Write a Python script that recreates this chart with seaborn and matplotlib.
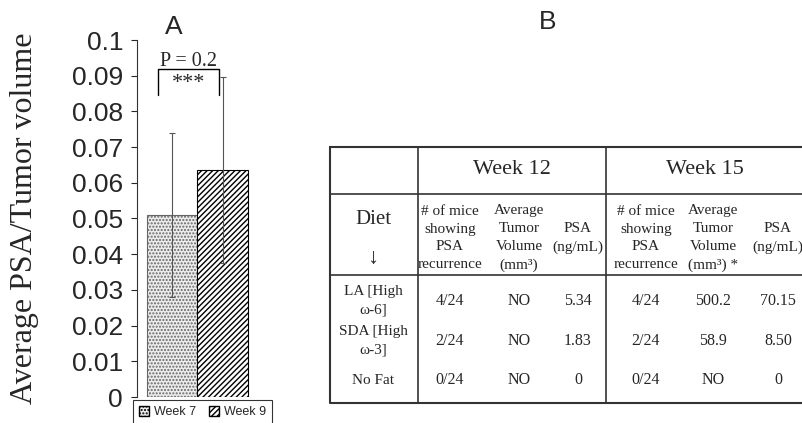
import matplotlib
matplotlib.use("Agg")
import matplotlib.pyplot as plt
import matplotlib.patches as mpatches
import pandas as pd
import seaborn as sns

# ---- panel A data ----
weeks = ["Week 7", "Week 9"]
psa_ratio = [0.051, 0.0635]
psa_err = [0.023, 0.026]
p_text = "P = 0.2"
sig_text = "***"

# ---- panel B table data ----
week_groups = ["Week 12", "Week 15"]
sub_headers = ["# of mice\nshowing\nPSA\nrecurrence",
               "Average\nTumor\nVolume\n(mm³)",
               "PSA\n(ng/mL)",
               "# of mice\nshowing\nPSA\nrecurrence",
               "Average\nTumor\nVolume\n(mm³) *",
               "PSA\n(ng/mL)"]
diets = ["LA [High\nω-6]", "SDA [High\nω-3]", "No Fat"]
row_la = ["4/24", "NO", "5.34", "4/24", "500.2", "70.15"]
row_sda = ["2/24", "NO", "1.83", "2/24", "58.9", "8.50"]
row_nofat = ["0/24", "NO", "0", "0/24", "NO", "0"]

sns.set_style("white")
serif = ["Liberation Serif", "DejaVu Serif"]
sans = ["Liberation Sans", "DejaVu Sans"]
plt.rcParams["font.family"] = sans
plt.rcParams["hatch.linewidth"] = 1.0

W, H = 802, 423
fig = plt.figure(figsize=(W / 100, H / 100), dpi=100)

# ---------------- Panel A: bar chart ----------------
ax = fig.add_axes([137 / W, 1 - 397 / H, 133 / W, 357 / H])
df = pd.DataFrame({"week": weeks, "ratio": psa_ratio})
sns.barplot(data=df, x="week", y="ratio", width=1.0, ax=ax,
            color="white", edgecolor="black", linewidth=0.8, errorbar=None)
bars = ax.patches
bars[0].set_facecolor("#ececec")
bars[0].set_hatch(".....")
bars[0].set_edgecolor("#666666")
bars[1].set_hatch("//////")

xs = [b.get_x() + b.get_width() / 2 for b in bars]
ax.errorbar(xs, psa_ratio, yerr=psa_err, fmt="none", ecolor="#555555",
            elinewidth=0.8, capsize=2, capthick=0.8)

ax.set_xlim(-0.7, 1.94)
ax.set_ylim(0, 0.1)
ax.set_yticks([i / 100 for i in range(11)])
ax.set_yticklabels(["0", "0.01", "0.02", "0.03", "0.04", "0.05", "0.06",
                    "0.07", "0.08", "0.09", "0.1"], fontsize=19)
ax.tick_params(axis="y", direction="out", length=4, width=0.8, pad=6, left=True)
ax.set_xticks([])
ax.set_xlabel("")
ax.set_ylabel("Average PSA/Tumor volume", family=serif, fontsize=23)
ax.yaxis.set_label_coords(-98 / 133, 0.5)
for s in ["top", "right", "bottom"]:
    ax.spines[s].set_visible(False)
ax.spines["left"].set_color("#333333")
ax.spines["left"].set_linewidth(0.8)

# significance bracket
bx0, bx1, by_top, by_bot = -0.28, 0.93, 0.092, 0.0845
ax.plot([bx0, bx0, bx1, bx1], [by_bot, by_top, by_top, by_bot],
        color="black", lw=1.0, clip_on=False)
ax.text((bx0 + bx1) / 2, by_top + 0.0008, p_text, ha="center", va="baseline",
        family=serif, fontsize=14.5)
ax.text((bx0 + bx1) / 2, by_top - 0.0016, sig_text, ha="center", va="top",
        family=serif, fontsize=16)

ax.set_title("A", fontsize=19, x=0.28, pad=4)

handles = [mpatches.Patch(facecolor=b.get_facecolor(), edgecolor="black",
                          hatch=b.get_hatch(), label=w) for b, w in zip(bars, weeks)]
leg = fig.legend(handles=handles, loc="upper left", ncol=2,
                 bbox_to_anchor=(133 / W, 1 - 400 / H), fontsize=9,
                 frameon=True, fancybox=False, handlelength=0.8,
                 handleheight=0.8, handletextpad=0.4, columnspacing=1.0,
                 borderpad=0.5, borderaxespad=0)
leg.get_frame().set_edgecolor("black")
leg.get_frame().set_linewidth(0.8)

# ---------------- Panel B: table ----------------
tx = fig.add_axes([0, 0, 1, 1])
tx.set_xlim(0, W)
tx.set_ylim(H, 0)
tx.axis("off")

fig.text(548 / W, 1 - 22 / H, "B", ha="center", va="center", fontsize=19)

left, right, top, bottom = 330, 806, 147, 403
col_div = [418, 606]
row_div = [194, 275]
tx.plot([left, right, right, left, left], [top, top, bottom, bottom, top],
        color="#333333", lw=1.5)
for c in col_div:
    tx.plot([c, c], [top, bottom], color="#333333", lw=1.2)
for r in row_div:
    tx.plot([left, right], [r, r], color="#333333", lw=1.2)

for g, cx in zip(week_groups, [512, 705]):
    tx.text(cx, 169, g, ha="center", va="center", family=serif, fontsize=16)

sub_x = [450, 519, 578, 646, 713, 778]
for txt, cx in zip(sub_headers, sub_x):
    tx.text(cx, 238, txt, ha="center", va="center", family=serif,
            fontsize=11, linespacing=1.48)

tx.text(373, 220, "Diet", ha="center", va="center", family=serif, fontsize=15)
tx.text(373, 259, "↓", ha="center", va="center", family=serif, fontsize=16)

rows = [row_la, row_sda, row_nofat]
row_y = [301, 341, 380]
for diet, vals, cy in zip(diets, rows, row_y):
    tx.text(373, cy, diet, ha="center", va="center", family=serif,
            fontsize=11, linespacing=1.6)
    for v, cx in zip(vals, sub_x):
        tx.text(cx, cy, v, ha="center", va="center", family=serif, fontsize=11.5)

fig.savefig("out.png", dpi=100)
